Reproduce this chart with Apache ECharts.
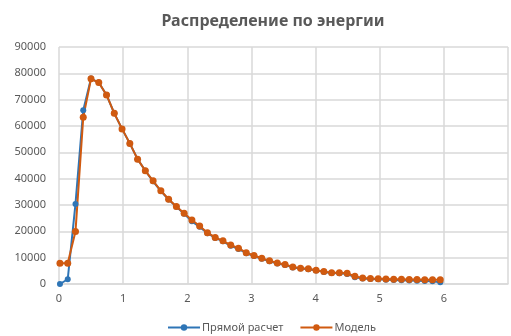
<!DOCTYPE html>
<html><head><meta charset="utf-8">
<script src="https://cdn.jsdelivr.net/npm/echarts@6/dist/echarts.min.js"></script>
<style>html,body{margin:0;padding:0;background:#fff}#c{width:511px;height:336px}</style>
</head><body><div id="c"></div>
<script>
const energy = [0.015,0.136,0.257,0.378,0.499,0.620,0.741,0.862,0.983,1.104,1.225,1.346,1.467,1.588,1.709,1.830,1.951,2.072,2.193,2.314,2.435,2.556,2.677,2.798,2.919,3.040,3.161,3.282,3.403,3.524,3.645,3.766,3.887,4.008,4.129,4.250,4.371,4.492,4.613,4.734,4.855,4.976,5.097,5.218,5.339,5.460,5.581,5.702,5.823,5.944];
const direct = [0,1800,30400,66000,78000,76500,71800,64800,58900,53400,47400,43000,39000,35300,32100,29300,26700,23800,21700,19300,17500,16200,14500,13300,11700,10600,9600,8600,7800,7200,6300,5900,5600,5100,4600,4200,4100,3800,2600,2100,1900,1800,1600,1500,1400,1300,1200,1100,1000,700];
const model = [7900,7900,19900,63300,77900,76500,71800,64800,58900,53400,47400,43000,39200,35400,32200,29400,26900,24300,22000,19500,17700,16400,14800,13600,11900,10800,9800,8800,8000,7400,6500,6000,5800,5200,4700,4300,4300,4100,2900,2300,2100,2000,1900,1800,1800,1700,1700,1600,1600,1600];
const seriesNames = ['Прямой расчет','Модель'];
const title = 'Распределение по энергии';

const chart = echarts.init(document.getElementById('c'), null, {renderer:'canvas'});
const pair = (ys) => energy.map((x,i)=>[x, ys[i]]);
const font = 'Noto Sans';
chart.setOption({
  animation:false,
  backgroundColor:'#ffffff',
  title:{text:title,top:8,left:268,textAlign:'center',
    textStyle:{fontFamily:font,fontSize:16,fontWeight:'bold',color:'#595959'}},
  legend:{top:317,left:162,itemWidth:32,itemHeight:8,itemGap:16,
    textStyle:{fontFamily:font,fontSize:11,color:'#595959',padding:[0,0,0,-3]},
    data:seriesNames},
  grid:{left:59,right:-5,top:47,bottom:52,containLabel:false},
  xAxis:{type:'value',min:0,max:7,interval:1,
    axisLine:{show:true,lineStyle:{color:'#d9d9d9',width:1.5}},
    axisTick:{show:false},
    axisLabel:{fontFamily:font,fontSize:11,color:'#595959',margin:9,
      formatter:(v)=> v>6? '' : String(v)},
    splitLine:{show:true,lineStyle:{color:'#d9d9d9',width:1.5}}},
  yAxis:{type:'value',min:0,max:90000,interval:10000,
    axisLine:{show:false},axisTick:{show:false},
    axisLabel:{fontFamily:font,fontSize:11,color:'#595959',margin:13,
      formatter:(v)=>String(v)},
    splitLine:{show:true,lineStyle:{color:'#d9d9d9',width:1.5}}},
  series:[
    {name:seriesNames[0],type:'line',data:pair(direct),symbol:'circle',symbolSize:6,
      color:'#2E75B6',lineStyle:{width:2,color:'#2E75B6'},itemStyle:{color:'#2E75B6'}},
    {name:seriesNames[1],type:'line',data:pair(model),symbol:'circle',symbolSize:7,
      color:'#D05A10',lineStyle:{width:2,color:'#D05A10'},itemStyle:{color:'#D05A10'}}
  ]
});
</script></body></html>
